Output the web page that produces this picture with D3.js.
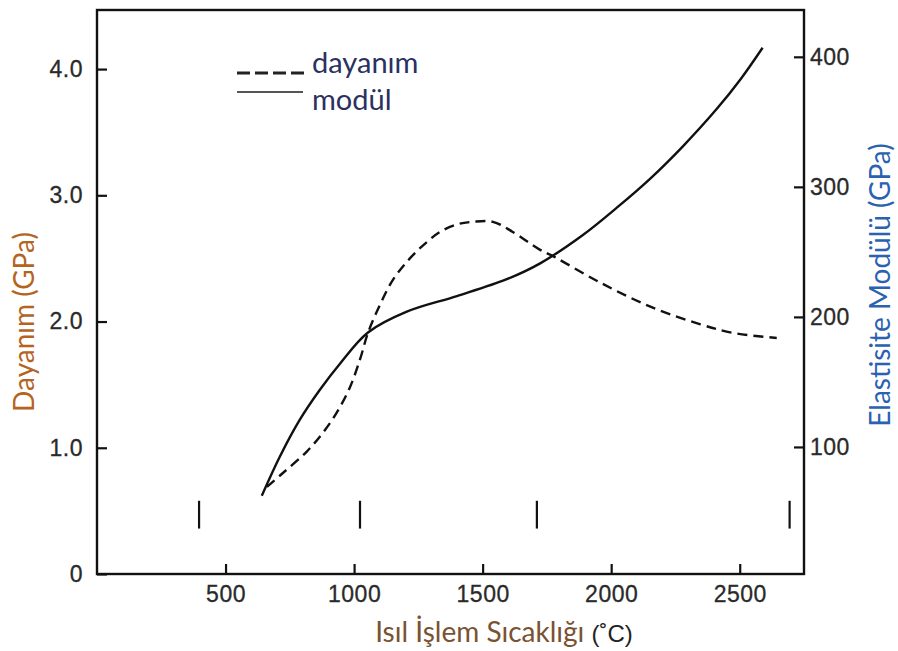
<!DOCTYPE html>
<html><head><meta charset="utf-8">
<script src="https://cdn.jsdelivr.net/npm/d3@7"></script>
<style>body{margin:0;background:#fff}svg{display:block}</style>
</head><body>
<script>
// ---- data ----
const xTicks = [500, 1000, 1500, 2000, 2500];
const leftTicks = [0, 1.0, 2.0, 3.0, 4.0];
const leftTickLabels = ["0", "1.0", "2.0", "3.0", "4.0"];
const rightTicks = [100, 200, 300, 400];
const rightTickLabels = ["100", "200", "300", "400"];

// dayanım (strength, GPa, left axis) vs temperature (°C)
const strengthTemp = [661, 723, 816, 879, 933, 984, 1023, 1054, 1100, 1151, 1217, 1283, 1334, 1400, 1462, 1540, 1617, 1722, 1781, 1956, 2150, 2344, 2473, 2644];
const strengthVal  = [0.69, 0.80, 0.97, 1.12, 1.28, 1.48, 1.70, 1.91, 2.13, 2.33, 2.50, 2.63, 2.71, 2.77, 2.79, 2.79, 2.71, 2.57, 2.51, 2.31, 2.12, 1.98, 1.91, 1.87];

// modül (elastic modulus, GPa, right axis) vs temperature (°C)
const modulusTemp = [641, 711, 789, 867, 945, 1054, 1205, 1400, 1594, 1722, 1890, 2022, 2150, 2278, 2411, 2504, 2589];
const modulusVal  = [62.5, 92.5, 121, 144, 164, 188, 204, 216, 229, 241, 263, 284, 306, 331, 360, 383, 407];

// short vertical marks in the plot (°C), spanning strength range
const markTemps = [397, 1023, 1711, 2694];
const markRange = [0.36, 0.58];

const legendLabels = ["dayanım", "modül"];

// ---- drawing ----
const W = 898, H = 651;
const svg = d3.select("body").append("svg").attr("width", W).attr("height", H);

const frame = {l: 97, r: 804, t: 10, b: 574};
const x = d3.scaleLinear().domain([0, 2750]).range([frame.l, frame.r]);
const yL = d3.scaleLinear().domain([0, 4.468]).range([frame.b, frame.t]);
const yR = d3.scaleLinear().domain([0, 436]).range([577, frame.t]);

const tickFont = "'Liberation Sans', Arial, sans-serif";
const labFont = "Lato, 'Open Sans', sans-serif";

// frame
svg.append("rect").attr("x", frame.l).attr("y", frame.t)
  .attr("width", frame.r - frame.l).attr("height", frame.b - frame.t)
  .attr("fill", "none").attr("stroke", "#111").attr("stroke-width", 2.4);

// axes
const ax = svg.append("g").attr("transform", `translate(0,${frame.b})`)
  .call(d3.axisBottom(x).tickValues(xTicks).tickSize(-10).tickPadding(12).tickFormat(d3.format("d")));
const axL = svg.append("g").attr("transform", `translate(${frame.l},0)`)
  .call(d3.axisLeft(yL).tickValues(leftTicks).tickSize(-10).tickPadding(14)
    .tickFormat((d, i) => leftTickLabels[i]));
const axR = svg.append("g").attr("transform", `translate(${frame.r},0)`)
  .call(d3.axisRight(yR).tickValues(rightTicks).tickSize(-10).tickPadding(6)
    .tickFormat((d, i) => rightTickLabels[i]));
[ax, axL, axR].forEach(g => {
  g.select(".domain").remove();
  g.selectAll(".tick line").attr("stroke", "#111").attr("stroke-width", 2.2);
  g.selectAll(".tick text").attr("font-family", tickFont).attr("font-size", 23)
    .attr("fill", "#2a2a2a").attr("stroke", "#2a2a2a").attr("stroke-width", 0.3)
    .attr("letter-spacing", 0.5);
});

// marks
svg.append("g").selectAll("line").data(markTemps).join("line")
  .attr("x1", d => x(d)).attr("x2", d => x(d))
  .attr("y1", yL(markRange[0])).attr("y2", yL(markRange[1]))
  .attr("stroke", "#111").attr("stroke-width", 2.2);

// curves
const strengthPts = strengthTemp.map((t, i) => [x(t), yL(strengthVal[i])]);
const modulusPts = modulusTemp.map((t, i) => [x(t), yR(modulusVal[i])]);
const line = d3.line().curve(d3.curveCatmullRom.alpha(0.5));
svg.append("path").attr("d", line(modulusPts)).attr("fill", "none")
  .attr("stroke", "#111").attr("stroke-width", 2.4);
svg.append("path").attr("d", line(strengthPts)).attr("fill", "none")
  .attr("stroke", "#111").attr("stroke-width", 2.4).attr("stroke-dasharray", "10,6");

// legend
const lg = svg.append("g");
lg.append("line").attr("x1", 237).attr("x2", 305).attr("y1", 73).attr("y2", 73)
  .attr("stroke", "#222").attr("stroke-width", 3.2).attr("stroke-dasharray", "13,5");
lg.append("line").attr("x1", 237).attr("x2", 303).attr("y1", 92).attr("y2", 92)
  .attr("stroke", "#555").attr("stroke-width", 1.8);
lg.selectAll("text").data(legendLabels).join("text")
  .attr("x", 312).attr("y", (d, i) => 73 + i * 37)
  .attr("font-family", labFont).attr("font-size", 29).attr("fill", "#2a3160")
  .text(d => d);

// axis titles
svg.append("text").attr("transform", "translate(34,322) rotate(-90)")
  .attr("text-anchor", "middle").attr("font-family", labFont).attr("font-size", 28)
  .attr("fill", "#b5641f").text("Dayanım (GPa)");
svg.append("text").attr("transform", "translate(890,285) rotate(-90)")
  .attr("text-anchor", "middle").attr("font-family", labFont).attr("font-size", 28)
  .attr("fill", "#2a62b0").text("Elastisite Modülü (GPa)");
const xt = svg.append("text").attr("x", 504).attr("y", 642)
  .attr("text-anchor", "middle").attr("font-family", labFont).attr("font-size", 28);
xt.append("tspan").attr("fill", "#7a5232").text("Isıl İşlem Sıcaklığı ");
xt.append("tspan").attr("fill", "#222").attr("font-family", tickFont).attr("font-size", 24).text("(˚C)");
</script>
</body></html>
